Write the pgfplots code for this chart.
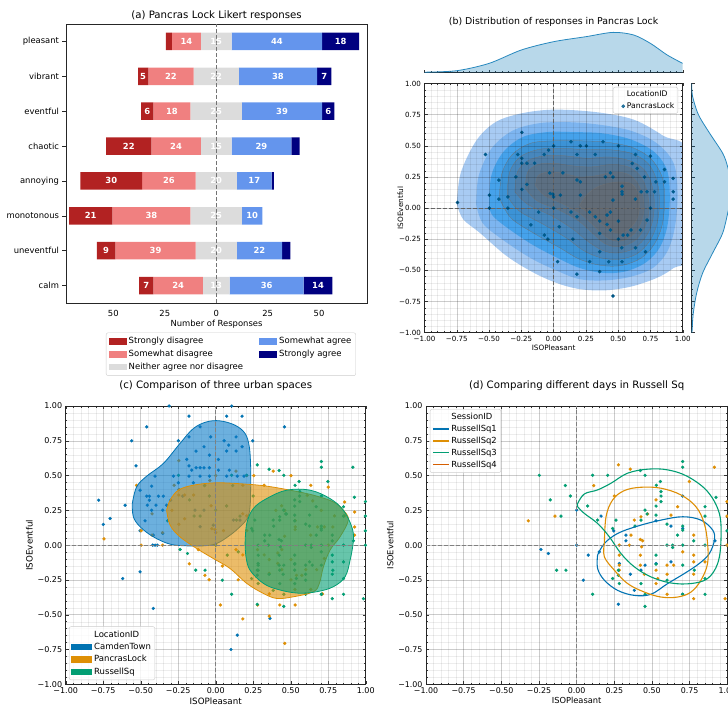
\documentclass[border=0pt]{standalone}
\usepackage{fontspec}
\setmainfont{DejaVu Sans}
\usepackage{pgfplots}
\usepackage{pgfplotstable}
\pgfplotsset{compat=1.18}
\newcommand{\fsz}[1]{\fontsize{#1}{#1}\selectfont}
\definecolor{sdis}{HTML}{B22222}
\definecolor{swdis}{HTML}{F08080}
\definecolor{neut}{HTML}{DCDCDC}
\definecolor{swag}{HTML}{6495ED}
\definecolor{stag}{HTML}{000080}
\definecolor{cbblue}{HTML}{0173B2}
\definecolor{cbbluefill}{HTML}{0A7BC8}
\definecolor{cborange}{HTML}{DE8F05}
\definecolor{cbgreen}{HTML}{029E73}
\definecolor{cbred}{HTML}{D55E00}
\definecolor{ka}{HTML}{A8CBF3}
\definecolor{kb}{HTML}{7DB5F0}
\definecolor{kc}{HTML}{45A2EB}
\definecolor{kd}{HTML}{3C93D6}
\definecolor{ke}{HTML}{4787BD}
\definecolor{kf}{HTML}{4F7DA6}
\definecolor{kg}{HTML}{567591}
\definecolor{kh}{HTML}{5C6F82}
\definecolor{ki}{HTML}{616B76}

% x axis of panel (a) is shifted by +80 so that 80 = zero responses
\pgfplotstableread{
y off sd swd neu swa sta
7 55.5 3 14 15 44 18
6 42 5 22 22 38 7
5 43.5 6 18 25 39 6
4 26.5 22 24 15 29 4
3 14 30 26 20 17 1
2 8.5 21 38 25 10 0
1 22 9 39 20 22 4
0 42.5 7 24 13 36 14
}\likert

\pgfplotstableread{
x y lab
65.5 7 14
80 7 15
109.5 7 44
140.5 7 18
44.5 6 5
58 6 22
80 6 22
110 6 38
132.5 6 7
46.5 5 6
58.5 5 18
80 5 25
112 5 39
134.5 5 6
37.5 4 22
60.5 4 24
80 4 15
102 4 29
29 3 30
57 3 26
80 3 20
98.5 3 17
19 2 21
48.5 2 38
80 2 25
97.5 2 10
26.5 1 9
50.5 1 39
80 1 20
101 1 22
46 0 7
61.5 0 24
80 0 13
104.5 0 36
129.5 0 14
}\likertlab

\pgfplotstableread{
x y
-0.745 0.045
-0.528 0.43
-0.246 0.607
-0.277 0.43
-0.246 0.40
-0.246 0.36
-0.207 0.36
-0.147 0.36
-0.292 0.25
-0.424 0.225
-0.497 0.104
-0.424 0.072
-0.354 0.09
-0.497 0.0
-0.354 0.0
-0.246 0.15
-0.207 0.19
-0.072 0.43
-0.039 0.465
0.0 0.5
-0.031 0.283
-0.026 0.118
-0.005 0.112
0.0 0.09
0.052 0.104
0.072 0.283
0.0 0.0
-0.116 -0.032
-0.176 -0.134
-0.072 -0.217
-0.044 -0.249
0.044 -0.15
0.031 -0.43
0.181 0.225
0.207 0.211
0.207 0.104
0.135 0.532
0.207 0.5
0.254 0.5
0.181 0.43
0.323 0.43
0.383 0.532
0.502 0.5
0.401 0.25
0.44 0.283
0.46 0.25
0.135 -0.032
0.181 -0.07
0.279 -0.032
0.323 -0.07
0.357 -0.104
0.414 -0.056
0.46 0.064
0.44 -0.032
0.414 -0.131
0.44 -0.176
0.502 -0.104
0.357 -0.203
0.502 -0.249
0.538 -0.217
0.574 -0.217
0.15 -0.249
0.357 -0.35
0.279 -0.43
0.427 -0.43
0.53 -0.43
0.528 -0.318
0.634 -0.318
0.712 -0.35
0.6 -0.176
0.357 -0.51
0.181 -0.53
0.46 -0.706
0.53 0.176
0.53 0.131
0.53 0.112
0.634 0.072
0.678 0.131
0.724 0.131
0.75 0.0
0.781 0.131
0.704 0.25
0.792 0.211
0.859 0.211
0.859 0.31
0.926 0.238
0.926 0.131
0.926 0.072
0.75 0.417
0.634 0.43
0.61 0.358
0.647 0.318
0.724 -0.096
0.673 -0.176
}\pancras

\pgfplotstableread{
x y
-0.311 1.0
0.107 1.0
-0.178 0.927
0.073 0.927
0.176 0.927
-0.46 0.85
-0.104 0.85
0.458 0.85
-0.56 0.75
-0.178 0.778
-0.033 0.778
0.136 0.778
-0.249 0.75
0.056 0.75
0.087 0.719
0.247 0.75
-0.078 0.707
0.176 0.707
-0.131 0.676
0.073 0.676
0.136 0.676
-0.042 0.647
-0.193 0.616
0.018 0.616
-0.531 0.57
-0.178 0.57
-0.131 0.556
-0.104 0.556
-0.078 0.556
-0.042 0.556
-0.16 0.539
0.018 0.539
0.091 0.539
-0.282 0.496
-0.178 0.496
-0.104 0.496
-0.042 0.496
0.073 0.496
0.189 0.496
-0.404 0.496
0.144 0.496
-0.249 0.448
-0.149 0.448
-0.504 0.395
-0.427 0.424
-0.46 0.352
-0.442 0.352
-0.382 0.352
-0.349 0.352
-0.22 0.352
-0.3 0.323
-0.442 0.323
-0.78 0.323
-0.456 0.287
-0.398 0.287
-0.327 0.287
-0.604 0.287
-0.427 0.251
-0.353 0.251
-0.138 0.251
-0.078 0.251
-0.704 0.192
-0.471 0.175
-0.749 0.149
-0.504 0.103
-0.416 0.072
-0.353 0.084
0.118 0.18
0.162 0.18
-0.016 0.144
-0.104 0.132
-0.42 0.0
-0.404 0.0
-0.389 0.0
-0.504 -0.192
-0.62 -0.24
-0.416 -0.455
0.362 -0.527
0.144 -0.647
0.102 -0.75
}\camden

\pgfplotstableread{
x y
0 0.252
0 0
-0.237 -0.031
-0.188 -0.06
0.044 -0.252
0.077 -0.072
0.15 -0.048
0.162 0.209
0.246 0.103
0.283 -0.132
0.277 -0.425
0.327 0.072
0.327 0.031
0.356 -0.209
0.383 -0.325
0.427 -0.18
0.454 -0.144
0.527 0.175
0.527 -0.132
0.626 0.137
0.626 -0.12
0.704 0.353
0.704 0.12
0.704 -0.353
0.918 0.031
}\rsa

\pgfplotstableread{
x y
-0.321 0.175
-0.144 0.209
0.277 0.577
0.356 0.546
0.113 0.428
0.25 0.353
0.283 0.0
0.283 -0.072
0.283 -0.144
0.283 -0.18
0.35 0.0
0.361 0.072
0.427 0.204
0.471 0.224
0.383 0.18
0.423 0.041
0.438 0.031
0.431 -0.012
0.423 -0.072
0.423 -0.144
0.449 -0.209
0.527 0.325
0.527 -0.18
0.538 -0.24
0.527 -0.276
0.6 -0.144
0.6 -0.209
0.6 -0.353
0.626 0.216
0.644 -0.144
0.67 0.276
0.704 -0.048
0.748 0.457
0.777 0.072
0.777 -0.072
0.777 -0.12
0.777 -0.209
0.777 -0.385
0.914 0.56
0.985 -0.385
0.852 -0.12
0.998 0.313
0.998 0.209
0.998 0.0
}\rsb

\pgfplotstableread{
x y
-0.248 0.502
-0.175 0.325
-0.075 0.428
-0.042 0.353
-0.104 0.209
-0.133 -0.18
-0.071 -0.18
0.073 0.281
0.106 0.502
0.206 0.502
0.139 0.18
0.261 0.18
0.239 0.12
0.106 -0.353
0.239 -0.24
0.277 -0.216
0.283 -0.276
0.277 -0.18
0.387 0.137
0.427 0.18
0.423 0.536
0.454 0.502
0.454 0.252
0.467 0.224
0.454 -0.353
0.454 -0.44
0.427 -0.276
0.527 -0.072
0.527 -0.137
0.527 0.281
0.529 0.43
0.556 0.457
0.56 0.385
0.56 0.353
0.56 0.313
0.6 0.151
0.6 0.0
0.6 -0.252
0.637 0.0
0.637 -0.017
0.67 0.072
0.704 0.137
0.704 0.108
0.704 0.601
0.704 0.56
0.704 0.0
0.704 -0.144
0.704 -0.353
0.777 0.031
0.852 0.276
0.852 0.209
0.852 0.0
0.852 -0.24
0.852 -0.353
0.781 -0.18
0.925 0.344
0.998 0.103
0.527 0.216
}\rsc

\pgfplotsset{
  iso/.style={
    scale only axis,
    xmin=-1,xmax=1,ymin=-1,ymax=1,
    xtick={-1,-0.75,-0.5,-0.25,0,0.25,0.5,0.75,1},
    ytick={-1,-0.75,-0.5,-0.25,0,0.25,0.5,0.75,1},
    xticklabels={−1.00,−0.75,−0.50,−0.25,0.00,0.25,0.50,0.75,1.00},
    yticklabels={−1.00,−0.75,−0.50,−0.25,0.00,0.25,0.50,0.75,1.00},
    minor tick num=4,
    grid=both,
    major grid style={draw=black, opacity=0.2, line width=0.45pt},
    minor grid style={draw=black, opacity=0.07, line width=0.35pt},
    tick align=inside, tick pos=both,
    major tick length=3pt, minor tick length=1.6pt,
    tick style={black!80, line width=0.4pt},
    axis line style={black!85, line width=0.6pt},
    xlabel={ISOPleasant}, ylabel={ISOEventful},
    clip mode=individual,
    legend cell align=left,
  },
  zeroline/.style={black!50, dash pattern=on 4pt off 2pt, line width=0.8pt, forget plot},
  lbox/.style={draw=black!20, fill=white, fill opacity=0.8, text opacity=1, rounded corners=2pt},
  pts/.style={forget plot, only marks, mark=*, mark size=1.45pt, #1},
  patch/.style={legend image code/.code={\fill[#1, sharp corners, fill opacity=1, draw=none] (0pt,-3.3pt) rectangle (18pt,3.3pt);}},
  wpatch/.style={legend image code/.code={\fill[#1, sharp corners, fill opacity=1, draw=none] (0pt,-3.3pt) rectangle (21pt,3.3pt);}},
  lpatch/.style={legend image code/.code={\draw[draw=#1, line width=1.3pt, sharp corners, draw opacity=1] (0pt,0pt) -- (16pt,0pt);}},
}

\begin{document}
\begin{tikzpicture}

% ---------------- (a) ----------------
\begin{axis}[at={(66pt,403pt)}, anchor=south west, scale only axis, width=301pt, height=279pt,
  xbar stacked, bar width=17.4pt,
  xmin=7, xmax=153.3, ymin=-0.5, ymax=7.5,
  ytick={0,1,2,3,4,5,6,7},
  yticklabels={calm,uneventful,monotonous,annoying,chaotic,eventful,vibrant,pleasant},
  xtick={30,55,80,105,130}, xticklabels={50,25,0,25,50},
  xlabel={Number of Responses}, xlabel shift=-3pt,
  title={(a) Pancras Lock Likert responses},
  title style={font=\fsz{10.2}, anchor=center, yshift=2pt},
  tick label style={font=\fsz{8.4}}, label style={font=\fsz{8.4}},
  axis line style={black!85, line width=0.7pt},
  tick align=outside, tick pos=left, major tick length=3.5pt,
  xtick style={draw=none}, ytick style={black!85, line width=0.6pt},
]
\addplot[draw=none, fill=none] table[x=off, y=y] {\likert};
\addplot[draw=none, fill=sdis] table[x=sd, y=y] {\likert};
\addplot[draw=none, fill=swdis] table[x=swd, y=y] {\likert};
\addplot[draw=none, fill=neut] table[x=neu, y=y] {\likert};
\addplot[draw=none, fill=swag] table[x=swa, y=y] {\likert};
\addplot[draw=none, fill=stag] table[x=sta, y=y] {\likert};
\end{axis}
\begin{axis}[at={(66pt,403pt)}, anchor=south west, scale only axis, width=301pt, height=279pt,
  xmin=7, xmax=153.3, ymin=-0.5, ymax=7.5, hide axis,
  legend columns=2, legend cell align=left,
  legend style={lbox, at={(0.548,-0.106)}, anchor=north, font=\fsz{8.5},
    /tikz/every even column/.append style={column sep=14pt}, row sep=1pt, inner sep=2.5pt},
]
\addplot[black!55, dash pattern=on 4pt off 2pt, line width=0.8pt, forget plot] coordinates {(80,-0.5) (80,7.5)};
\addplot[forget plot, draw=none, mark=none, nodes near coords, point meta=explicit symbolic,
  every node near coord/.append style={anchor=center, font=\fsz{8.4}\bfseries, text=white, inner sep=0pt}]
  table[x=x, y=y, meta=lab] {\likertlab};
\addlegendimage{patch=sdis}\addlegendentry{Strongly disagree}
\addlegendimage{patch=swag}\addlegendentry{Somewhat agree}
\addlegendimage{patch=swdis}\addlegendentry{Somewhat disagree}
\addlegendimage{patch=stag}\addlegendentry{Strongly agree}
\addlegendimage{patch=neut}\addlegendentry{Neither agree nor disagree}
\end{axis}

% ---------------- (b) ----------------
\begin{axis}[iso, at={(424.5pt,373.3pt)}, anchor=south west, width=258.2pt, height=249.2pt, axis on top,
  tick label style={font=\fsz{7.1}}, label style={font=\fsz{7.3}},
  xlabel shift=-3.5pt, ylabel shift=-11pt,
  legend style={lbox, font=\fsz{7.7}, at={(0.982,0.986)}, anchor=north east, inner sep=1.5pt, row sep=0.5pt},
]
\addplot[forget plot, fill=ka, draw=none, smooth, tension=0.55] coordinates {(-0.75,0.03) (-0.72,0.28) (-0.6,0.54) (-0.45,0.69) (-0.25,0.76) (0.0,0.79) (0.33,0.77) (0.62,0.71) (0.85,0.58) (1.05,0.43) (1.05,-0.36) (0.93,-0.48) (0.8,-0.56) (0.6,-0.63) (0.4,-0.66) (0.2,-0.65) (0.02,-0.6) (-0.17,-0.51) (-0.37,-0.38) (-0.57,-0.2) (-0.7,-0.09) (-0.75,0.03)};
\addplot[forget plot, fill=kb, draw=none, smooth, tension=0.55] coordinates {(-0.6,0.03) (-0.58,0.26) (-0.48,0.48) (-0.32,0.62) (-0.12,0.68) (0.1,0.69) (0.35,0.67) (0.6,0.62) (0.8,0.52) (0.93,0.36) (0.96,0.12) (0.94,-0.15) (0.88,-0.35) (0.77,-0.48) (0.6,-0.55) (0.4,-0.58) (0.2,-0.57) (0.02,-0.5) (-0.18,-0.4) (-0.4,-0.25) (-0.55,-0.12) (-0.6,0.03)};
\addplot[forget plot, fill=kc, draw=none, smooth, tension=0.55] coordinates {(-0.5,0.05) (-0.48,0.27) (-0.39,0.45) (-0.24,0.57) (-0.05,0.61) (0.15,0.61) (0.38,0.6) (0.6,0.55) (0.78,0.45) (0.88,0.3) (0.9,0.08) (0.88,-0.15) (0.82,-0.32) (0.71,-0.44) (0.55,-0.51) (0.38,-0.52) (0.2,-0.48) (0.03,-0.4) (-0.17,-0.29) (-0.37,-0.15) (-0.48,-0.05) (-0.5,0.05)};
\addplot[forget plot, fill=kd, draw=black!55, line width=0.25pt, smooth, tension=0.55] coordinates {(-0.42,0.08) (-0.4,0.28) (-0.32,0.43) (-0.18,0.52) (0.0,0.54) (0.2,0.54) (0.4,0.53) (0.6,0.49) (0.75,0.4) (0.84,0.25) (0.86,0.06) (0.84,-0.14) (0.78,-0.29) (0.68,-0.4) (0.53,-0.46) (0.37,-0.46) (0.2,-0.41) (0.05,-0.32) (-0.14,-0.21) (-0.33,-0.08) (-0.42,0.08)};
\addplot[forget plot, fill=ke, draw=black!55, line width=0.25pt, smooth, tension=0.55] coordinates {(-0.36,0.1) (-0.34,0.29) (-0.26,0.41) (-0.12,0.47) (0.05,0.48) (0.24,0.47) (0.42,0.47) (0.6,0.44) (0.73,0.36) (0.8,0.22) (0.82,0.05) (0.8,-0.13) (0.74,-0.27) (0.64,-0.37) (0.51,-0.41) (0.37,-0.4) (0.23,-0.34) (0.1,-0.24) (-0.08,-0.13) (-0.27,-0.02) (-0.36,0.1)};
\addplot[forget plot, fill=kf, draw=black!55, line width=0.25pt, smooth, tension=0.55] coordinates {(-0.3,0.13) (-0.28,0.29) (-0.2,0.38) (-0.07,0.42) (0.08,0.42) (0.26,0.4) (0.43,0.41) (0.59,0.38) (0.7,0.31) (0.76,0.19) (0.78,0.03) (0.76,-0.13) (0.7,-0.25) (0.61,-0.33) (0.49,-0.36) (0.38,-0.34) (0.27,-0.27) (0.15,-0.17) (0.0,-0.07) (-0.2,0.03) (-0.3,0.13)};
\addplot[forget plot, fill=kg, draw=black!55, line width=0.25pt, smooth, tension=0.55] coordinates {(-0.22,0.16) (-0.2,0.29) (-0.12,0.35) (0.0,0.36) (0.14,0.34) (0.29,0.33) (0.45,0.35) (0.58,0.33) (0.67,0.26) (0.72,0.15) (0.74,0.01) (0.72,-0.12) (0.66,-0.23) (0.58,-0.29) (0.48,-0.31) (0.39,-0.28) (0.3,-0.2) (0.19,-0.1) (0.05,-0.02) (-0.13,0.06) (-0.22,0.16)};
\addplot[forget plot, fill=kh, draw=black!55, line width=0.25pt, smooth, tension=0.55] coordinates {(-0.14,0.18) (-0.12,0.26) (-0.04,0.29) (0.07,0.28) (0.2,0.25) (0.33,0.26) (0.47,0.29) (0.58,0.27) (0.65,0.2) (0.69,0.1) (0.7,-0.02) (0.67,-0.13) (0.62,-0.21) (0.54,-0.26) (0.46,-0.26) (0.38,-0.21) (0.3,-0.13) (0.2,-0.04) (0.06,0.04) (-0.07,0.1) (-0.14,0.18)};
\addplot[forget plot, fill=ki, draw=black!55, line width=0.25pt, smooth, tension=0.55] coordinates {(0.2,0.02) (0.26,0.11) (0.36,0.18) (0.5,0.21) (0.61,0.19) (0.66,0.09) (0.66,-0.04) (0.62,-0.13) (0.55,-0.19) (0.48,-0.2) (0.4,-0.15) (0.3,-0.07) (0.2,0.02)};
\addplot[zeroline] coordinates {(-1,0) (1,0)};
\addplot[zeroline] coordinates {(0,-1) (0,1)};
\addlegendimage{empty legend}\addlegendentry{LocationID}
\addplot[only marks, mark=*, mark size=1.6pt, color=cbblue!80!black] table {\pancras};
\addlegendentry{PancrasLock}
\end{axis}
% top marginal
\begin{axis}[at={(424.5pt,633.3pt)}, anchor=south west, scale only axis, width=258.2pt, height=43pt,
  xmin=-1, xmax=1, ymin=0, ymax=43, axis x line*=bottom, hide y axis,
  xtick={-1,-0.75,-0.5,-0.25,0,0.25,0.5,0.75,1}, xticklabels={}, minor tick num=4,
  tick align=inside, major tick length=3pt, minor tick length=1.6pt,
  tick style={black!80, line width=0.4pt}, axis line style={black!85, line width=0.6pt},
  title={(b) Distribution of responses in Pancras Lock},
  title style={font=\fsz{9.4}, anchor=center, yshift=2pt},
]
\addplot[fill=cbblue, fill opacity=0.28, draw=none, smooth] coordinates {(-1,0.5) (-0.75,2) (-0.5,9.3) (-0.25,22.7) (0,31) (0.25,36) (0.46,40.3) (0.62,37.7) (0.75,29.3) (0.88,17.7) (1,9.3)} \closedcycle;
\addplot[draw=cbblue!85, line width=0.8pt, smooth] coordinates {(-1,0.5) (-0.75,2) (-0.5,9.3) (-0.25,22.7) (0,31) (0.25,36) (0.46,40.3) (0.62,37.7) (0.75,29.3) (0.88,17.7) (1,9.3)};
\end{axis}
% right marginal
\begin{axis}[at={(691.7pt,373.3pt)}, anchor=south west, scale only axis, width=43pt, height=249.2pt,
  xmin=0, xmax=43, ymin=-1, ymax=1, axis y line*=left, hide x axis,
  ytick={-1,-0.75,-0.5,-0.25,0,0.25,0.5,0.75,1}, yticklabels={}, minor tick num=4,
  tick align=inside, major tick length=3pt, minor tick length=1.6pt,
  tick style={black!80, line width=0.4pt}, axis line style={black!85, line width=0.6pt},
]
\addplot[fill=cbblue, fill opacity=0.28, draw=none, smooth] coordinates {(0,-1) (0.3,-1) (1.5,-0.85) (5,-0.68) (11,-0.52) (21,-0.36) (31,-0.2) (36,-0.04) (39,0.08) (40,0.18) (36,0.33) (31,0.44) (18,0.6) (6.7,0.75) (0.8,0.9) (0,1)};
\addplot[draw=cbblue!85, line width=0.8pt, smooth] coordinates {(0.3,-1) (1.5,-0.85) (5,-0.68) (11,-0.52) (21,-0.36) (31,-0.2) (36,-0.04) (39,0.08) (40,0.18) (36,0.33) (31,0.44) (18,0.6) (6.7,0.75) (0.8,0.9) (0,1)};
\end{axis}

% ---------------- (c) ----------------
\begin{axis}[iso, at={(65.7pt,21.7pt)}, anchor=south west, width=300pt, height=278.3pt,
  title={(c) Comparison of three urban spaces},
  title style={font=\fsz{10.2}, anchor=center, yshift=14.5pt},
  tick label style={font=\fsz{8}}, label style={font=\fsz{8.7}},
  xlabel shift=-3pt, ylabel shift=-2pt,
  legend style={lbox, font=\fsz{8.5}, at={(0.011,0.015)}, anchor=south west, inner sep=2pt, row sep=0.5pt},
]
\addplot[pts={cbblue}] table {\camden};
\addplot[pts={cborange}] table {\pancras};
\addplot[pts={cbgreen}] table {\rsa};
\addplot[pts={cbgreen}] table {\rsb};
\addplot[pts={cbgreen}] table {\rsc};
\addplot[forget plot, fill=cbbluefill, fill opacity=0.6, draw=cbblue, line width=0.8pt, smooth, tension=0.6] coordinates {(-0.556,0.299) (-0.527,0.419) (-0.46,0.496) (-0.349,0.587) (-0.238,0.731) (-0.149,0.838) (-0.06,0.886) (0.029,0.893) (0.129,0.862) (0.196,0.802) (0.224,0.707) (0.233,0.563) (0.233,0.419) (0.229,0.275) (0.211,0.192) (0.162,0.132) (0.096,0.072) (0.007,0.012) (-0.082,-0.005) (-0.193,-0.005) (-0.304,0.007) (-0.416,0.06) (-0.504,0.132) (-0.549,0.204) (-0.556,0.299)};
\addplot[forget plot, fill=cborange, fill opacity=0.6, draw=cborange, line width=0.8pt, smooth, tension=0.6] coordinates {(-0.327,0.251) (-0.304,0.323) (-0.249,0.395) (-0.149,0.431) (0.007,0.448) (0.207,0.438) (0.34,0.424) (0.496,0.395) (0.651,0.359) (0.784,0.311) (0.851,0.251) (0.884,0.18) (0.829,0.06) (0.762,-0.036) (0.718,-0.156) (0.691,-0.275) (0.651,-0.335) (0.518,-0.371) (0.407,-0.383) (0.318,-0.347) (0.207,-0.275) (0.096,-0.168) (-0.016,-0.096) (-0.127,-0.024) (-0.238,0.06) (-0.304,0.144) (-0.327,0.251)};
\addplot[forget plot, fill=cbgreen, fill opacity=0.6, draw=cbgreen, line width=0.8pt, smooth, tension=0.6] coordinates {(0.196,0.012) (0.207,0.156) (0.251,0.263) (0.34,0.335) (0.473,0.395) (0.629,0.395) (0.762,0.335) (0.851,0.251) (0.907,0.132) (0.918,0.036) (0.896,-0.108) (0.862,-0.228) (0.784,-0.299) (0.673,-0.335) (0.55,-0.345) (0.42,-0.32) (0.318,-0.275) (0.229,-0.18) (0.202,-0.084) (0.196,0.012)};
\addplot[zeroline] coordinates {(-1,0) (1,0)};
\addplot[zeroline] coordinates {(0,-1) (0,1)};
\addlegendimage{empty legend}\addlegendentry{LocationID}
\addlegendimage{wpatch=cbblue}\addlegendentry{CamdenTown}
\addlegendimage{wpatch=cborange}\addlegendentry{PancrasLock}
\addlegendimage{wpatch=cbgreen}\addlegendentry{RussellSq}
\end{axis}

% ---------------- (d) ----------------
\begin{axis}[iso, at={(426pt,21.7pt)}, anchor=south west, width=301.3pt, height=278.3pt,
  title={(d) Comparing different days in Russell Sq},
  title style={font=\fsz{10.2}, anchor=center, yshift=14.5pt},
  tick label style={font=\fsz{7.9}}, label style={font=\fsz{8.3}},
  xlabel shift=-3pt, ylabel shift=-2pt,
  legend style={lbox, font=\fsz{8.4}, at={(0.013,0.989)}, anchor=north west, inner sep=2pt, row sep=0pt},
]
\addplot[pts={cbblue}] table {\rsa};
\addplot[pts={cborange}] table {\rsb};
\addplot[pts={cbgreen}] table {\rsc};
\addplot[forget plot, draw=cbblue, line width=1.1pt, smooth, tension=0.6] coordinates {(0.139,-0.072) (0.184,0.012) (0.272,0.084) (0.405,0.137) (0.56,0.18) (0.704,0.204) (0.825,0.18) (0.903,0.108) (0.914,0.036) (0.881,-0.06) (0.814,-0.132) (0.715,-0.204) (0.604,-0.276) (0.493,-0.353) (0.383,-0.361) (0.272,-0.325) (0.184,-0.252) (0.139,-0.168) (0.139,-0.072)};
\addplot[forget plot, draw=cborange, line width=1.1pt, smooth, tension=0.6] coordinates {(0.184,0.012) (0.195,0.204) (0.239,0.325) (0.316,0.392) (0.427,0.416) (0.56,0.409) (0.692,0.361) (0.792,0.276) (0.847,0.156) (0.869,0.012) (0.869,-0.132) (0.825,-0.252) (0.759,-0.337) (0.67,-0.373) (0.56,-0.373) (0.449,-0.337) (0.338,-0.276) (0.25,-0.18) (0.184,-0.084) (0.184,0.012)};
\addplot[forget plot, draw=cbgreen, line width=1.1pt, smooth, tension=0.6] coordinates {(0.007,0.3) (0.051,0.368) (0.139,0.397) (0.228,0.445) (0.338,0.517) (0.471,0.546) (0.604,0.541) (0.737,0.493) (0.869,0.385) (0.947,0.228) (0.958,0.036) (0.936,-0.132) (0.869,-0.24) (0.759,-0.276) (0.626,-0.272) (0.493,-0.228) (0.383,-0.156) (0.294,-0.06) (0.217,0.06) (0.139,0.156) (0.051,0.228) (0.007,0.276) (0.007,0.3)};
\addplot[zeroline] coordinates {(-1,0) (1,0)};
\addplot[zeroline] coordinates {(0,-1) (0,1)};
\addlegendimage{empty legend}\addlegendentry{SessionID}
\addlegendimage{lpatch=cbblue}\addlegendentry{RussellSq1}
\addlegendimage{lpatch=cborange}\addlegendentry{RussellSq2}
\addlegendimage{lpatch=cbgreen}\addlegendentry{RussellSq3}
\addlegendimage{lpatch=cbred}\addlegendentry{RussellSq4}
\end{axis}

\pgfresetboundingbox
\path[use as bounding box] (0pt,0pt) rectangle (728pt,706pt);
\end{tikzpicture}
\end{document}
